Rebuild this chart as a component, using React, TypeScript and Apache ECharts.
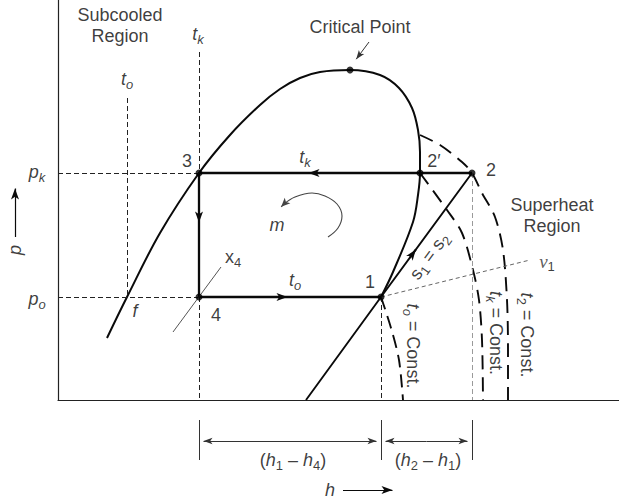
import React, { useEffect, useRef } from 'react';
import * as echarts from 'echarts';

// ---------- canvas / grid ----------
const CHART_W = 619;
const CHART_H = 499;
const GRID = { left: 58, top: 0, right: 0, bottom: 99 };

// ---------- axis ranges (enthalpy h, pressure p; arbitrary units) ----------
const H_AXIS = [0, 112.2];
const P_AXIS = [0, 100];

// ---------- state values ----------
const P_K = 56.75; // condenser pressure
const P_O = 25.75; // evaporator pressure
const H_F = 13.8; // saturated liquid at p_o
const H_3 = 28.2; // = h4
const H_1 = 64.6;
const H_2P = 72.4; // 2'
const H_2 = 82.8;
const CRITICAL = [58.4, 82.5];

// saturated liquid line (bottom -> critical point)
const liquidLine = [
  [9.8, 15.5], [13.8, 25.75], [20.4, 41.75], [28.2, 56.75], [34.4, 66.25],
  [40.4, 73.75], [44.4, 77.75], [48.4, 80.5], [52.4, 82], [58.4, 82.5],
];
// saturated vapour line (critical point -> point 1)
const vaporLine = [
  [58.4, 82.5], [64.4, 81.25], [68.2, 78], [70.8, 73], [72, 67.5], [72.4, 62],
  [72.4, 56.75], [72, 51.25], [71, 44.5], [67, 32], [64.6, 25.75],
];
// isentrope s1 = s2 (extended below point 1)
const isentrope = [[49.6, 0], [H_1, P_O], [H_2, P_K]];
// cycle 2 -> 3 -> 4 -> 1
const cycle = [[H_2, P_K], [H_3, P_K], [H_3, P_O], [H_1, P_O]];

// isotherms in the superheat region
const isoTo = [[64.6, 25.75], [66.6, 18], [68.2, 10], [69, 0]];
const isoTk = [[72.4, 56.75], [77.8, 47.5], [80.8, 41.75], [83, 32.5], [84.2, 25], [84.8, 15], [85, 0]];
const isoT2 = [
  [72.4, 66.25], [76.4, 63.75], [80.8, 59.5], [82.8, 56.75], [84.8, 51.75],
  [87.4, 45.75], [89, 37.5], [89.8, 25], [90, 12.5], [90, 0],
];
// constant specific volume v1 through point 1
const isoV1 = [[H_1, P_O], [94.4, 35]];
// constant quality x4 through point 4
const isoX4 = [[23, 17], [32.6, 33.25]];
// direction-of-cycle sketch "m"
const mArc = [[54, 40.75], [56, 43], [56.8, 46], [55.8, 49], [53.4, 51], [50.8, 51.75], [47.4, 50.75], [45.2, 49]];
const mArcTip = [44, 47.5];

// guide lines
const T_O_TOP = 75.5;
const T_K_TOP = 87;
const DIM_TICK = [-5, -15];
const DIM_LINE = -10.25;

// ---------- styles ----------
const INK = '#0a0a0a';
const SANS = "'Liberation Sans', Arial, Helvetica, sans-serif";
const SERIF = "'Liberation Serif', 'Times New Roman', serif";

const sx = (CHART_W - GRID.left - GRID.right) / (H_AXIS[1] - H_AXIS[0]);
const sy = (CHART_H - GRID.top - GRID.bottom) / (P_AXIS[1] - P_AXIS[0]);

// segment whose arrow (centred on the end point) has its tip on `tip`
function arrowSeg(from: number[], tip: number[], len: number) {
  const dx = (tip[0] - from[0]) * sx;
  const dy = (tip[1] - from[1]) * sy;
  const d = Math.hypot(dx, dy) || 1;
  const back = len / 2;
  return [from, [tip[0] - (dx / d) * back / sx, tip[1] - (dy / d) * back / sy]];
}

function onIsentrope(p: number) {
  return [H_1 + (p - P_O) * (H_2 - H_1) / (P_K - P_O), p];
}

const RICH: any = {
  i: { fontSize: 18, fontStyle: 'italic', lineHeight: 24, fontFamily: SANS, color: INK },
  n: { fontSize: 18, lineHeight: 24, fontFamily: SANS, color: INK },
  si: { fontSize: 13, fontStyle: 'italic', lineHeight: 13, verticalAlign: 'bottom', fontFamily: SANS, color: INK },
  sd: { fontSize: 13, lineHeight: 13, verticalAlign: 'bottom', fontFamily: SANS, color: INK },
  v: { fontSize: 19, fontStyle: 'italic', lineHeight: 24, fontFamily: SERIF, color: '#333' },
};

const annotations: { at: number[]; text: string; rotate?: number }[] = [
  { at: [12.4, 93.75], text: 'Subcooled\nRegion' },
  { at: [28, 91.5], text: '{i|t}{si|k}' },
  { at: [13.8, 80.25], text: '{i|t}{si|o}' },
  { at: [60.4, 93.25], text: 'Critical Point' },
  { at: [-4.2, 57], text: '{i|p}{si|k}' },
  { at: [-4.2, 25.25], text: '{i|p}{si|o}' },
  { at: [-8.6, 37.5], text: '{i|p}', rotate: 90 },
  { at: [25.8, 59.75], text: '3' },
  { at: [49.4, 60.75], text: '{i|t}{si|k}' },
  { at: [75.2, 59.75], text: '2′' },
  { at: [86.6, 57.5], text: '2' },
  { at: [98.8, 46.25], text: 'Superheat\nRegion' },
  { at: [43.8, 43.75], text: '{i|m}' },
  { at: [35, 35.75], text: '{n|x}{sd|4}' },
  { at: [47.4, 30], text: '{i|t}{si|o}' },
  { at: [62.4, 29.5], text: '1' },
  { at: [15.4, 22.25], text: '{i|f}' },
  { at: [31.6, 21.25], text: '4' },
  { at: [74.2, 36], text: '{n|s}{sd|1}{n| = s}{sd|2}', rotate: 54 },
  { at: [97.8, 34.75], text: '{v|v}{sd|1}' },
  { at: [71, 13.5], text: '{i|t}{si|o}{n| = Const.}', rotate: -90 },
  { at: [87.6, 16.75], text: '{i|t}{si|k}{n| = Const.}', rotate: -90 },
  { at: [93.8, 16.25], text: '{i|t}{sd|2}{n| = Const.}', rotate: -90 },
  { at: [47, -15], text: '{n|(}{i|h}{sd|1}{n| – }{i|h}{sd|4}{n|)}' },
  { at: [74, -15], text: '{n|(}{i|h}{sd|2}{n| – }{i|h}{sd|1}{n|)}' },
  { at: [54.4, -22.5], text: '{i|h}' },
];

function curve(data: number[][], width: number, type: any = 'solid', color = INK, smooth: number | boolean = 0) {
  return {
    type: 'line', data, smooth, symbol: 'none', clip: false, silent: true, z: 3,
    lineStyle: { color, width, type, cap: 'butt' },
  };
}

function segs(list: number[][][], width: number, type: any = 'solid', color = INK, arrow?: number[]) {
  return {
    type: 'lines', coordinateSystem: 'cartesian2d', clip: false, silent: true, z: 4,
    data: list.map((c) => ({ coords: c })),
    symbol: arrow ? ['none', 'arrow'] : ['none', 'none'],
    symbolSize: arrow ? [[0, 0], arrow] : 0,
    lineStyle: { color, width, type, opacity: 1, curveness: 0 },
    itemStyle: { color },
  };
}

function buildOption(): any {
  const dimMid1 = (H_3 + H_1) / 2;
  const dimMid2 = (H_1 + H_2) / 2;
  return {
    animation: false,
    backgroundColor: '#ffffff',
    grid: { ...GRID, containLabel: false },
    xAxis: {
      type: 'value', min: H_AXIS[0], max: H_AXIS[1],
      axisLine: { show: true, onZero: false, lineStyle: { color: '#222', width: 1.2 } },
      axisTick: { show: false }, axisLabel: { show: false }, splitLine: { show: false },
    },
    yAxis: {
      type: 'value', min: P_AXIS[0], max: P_AXIS[1],
      axisLine: { show: true, onZero: false, lineStyle: { color: '#222', width: 1.2 } },
      axisTick: { show: false }, axisLabel: { show: false }, splitLine: { show: false },
    },
    series: [
      // short-dashed guides
      segs([
        [[H_F, T_O_TOP], [H_F, P_O]],
        [[H_3, T_K_TOP], [H_3, P_K]],
        [[H_3, P_O], [H_3, 0]],
        [[0, P_K], [H_3, P_K]],
        [[0, P_O], [H_3, P_O]],
        [[H_1, P_O], [H_1, 0]],
      ], 1, [5, 3], '#222'),
      segs([[[H_2, P_K], [H_2, 0]]], 1, [5, 3], '#9a9a9a'),
      segs([isoV1], 1, [4, 3], '#666'),
      segs([isoX4], 1, 'solid', '#555'),
      // isotherms
      curve(isoTo, 1.9, [13, 7], INK, 0.3),
      curve(isoTk, 1.9, [14, 8], INK, 0.3),
      curve(isoT2, 1.9, [14, 8], INK, 0.3),
      // saturation dome
      curve(liquidLine.concat(vaporLine.slice(1)), 2, 'solid', INK, 0.35),
      // isentrope and cycle
      curve(isentrope, 1.9),
      curve(cycle, 2.3),
      // m sketch
      curve(mArc, 1.1, 'solid', '#444', 0.4),
      segs([arrowSeg(mArc[mArc.length - 1], mArcTip, 9)], 1.1, 'solid', '#444', [6, 9]),
      // cycle arrows
      segs([
        arrowSeg([52, P_K], [49, P_K], 11),
        arrowSeg([H_3, 46], [H_3, 43], 11),
        arrowSeg([44, P_O], [47, P_O], 11),
        arrowSeg(onIsentrope(35.5), onIsentrope(38.75), 11),
      ], 2, 'solid', INK, [6, 11]),
      // critical point pointer
      segs([arrowSeg([62.2, 89.5], [59.1, 84.3], 9)], 1, 'solid', '#333', [5, 9]),
      // axis arrows (p and h)
      segs([
        arrowSeg([-8.6, 40.75], [-8.6, 54.25], 11),
        arrowSeg([57, -22.5], [68, -22.5], 11),
      ], 1.2, 'solid', INK, [6, 11]),
      // dimension lines
      segs([
        [[H_3, DIM_TICK[0]], [H_3, DIM_TICK[1]]],
        [[H_1, DIM_TICK[0]], [H_1, DIM_TICK[1]]],
        [[H_2, DIM_TICK[0]], [H_2, DIM_TICK[1]]],
      ], 1, 'solid', '#333'),
      segs([
        arrowSeg([dimMid1, DIM_LINE], [H_3, DIM_LINE], 9),
        arrowSeg([dimMid1, DIM_LINE], [H_1, DIM_LINE], 9),
        arrowSeg([dimMid2, DIM_LINE], [H_1, DIM_LINE], 9),
        arrowSeg([dimMid2, DIM_LINE], [H_2, DIM_LINE], 9),
      ], 1, 'solid', '#333', [5, 9]),
      // state points
      {
        type: 'scatter', clip: false, silent: true, z: 6,
        symbol: 'circle', symbolSize: 7,
        itemStyle: { color: '#000' },
        data: [[H_3, P_K], [H_2P, P_K], [H_2, P_K], [H_1, P_O], [H_3, P_O], CRITICAL],
      },
      // text annotations
      {
        type: 'scatter', clip: false, silent: true, z: 7,
        symbol: 'circle', symbolSize: 1,
        itemStyle: { color: 'rgba(0,0,0,0)' },
        label: {
          show: true, position: 'inside', align: 'center', verticalAlign: 'middle',
          color: INK, fontFamily: SANS, fontSize: 18, lineHeight: 21, rich: RICH,
        },
        data: annotations.map((a) => ({
          value: a.at,
          label: { formatter: a.text, rotate: a.rotate || 0 },
        })),
      },
    ],
  };
}

export default function App() {
  const ref = useRef<HTMLDivElement>(null);
  useEffect(() => {
    if (!ref.current) return;
    const chart = echarts.init(ref.current, null, { renderer: 'svg' });
    chart.setOption(buildOption());
    return () => chart.dispose();
  }, []);
  return (
    <div
      ref={ref}
      style={{ position: 'absolute', left: 0, top: 0, width: CHART_W, height: CHART_H, background: '#fff' }}
    />
  );
}
